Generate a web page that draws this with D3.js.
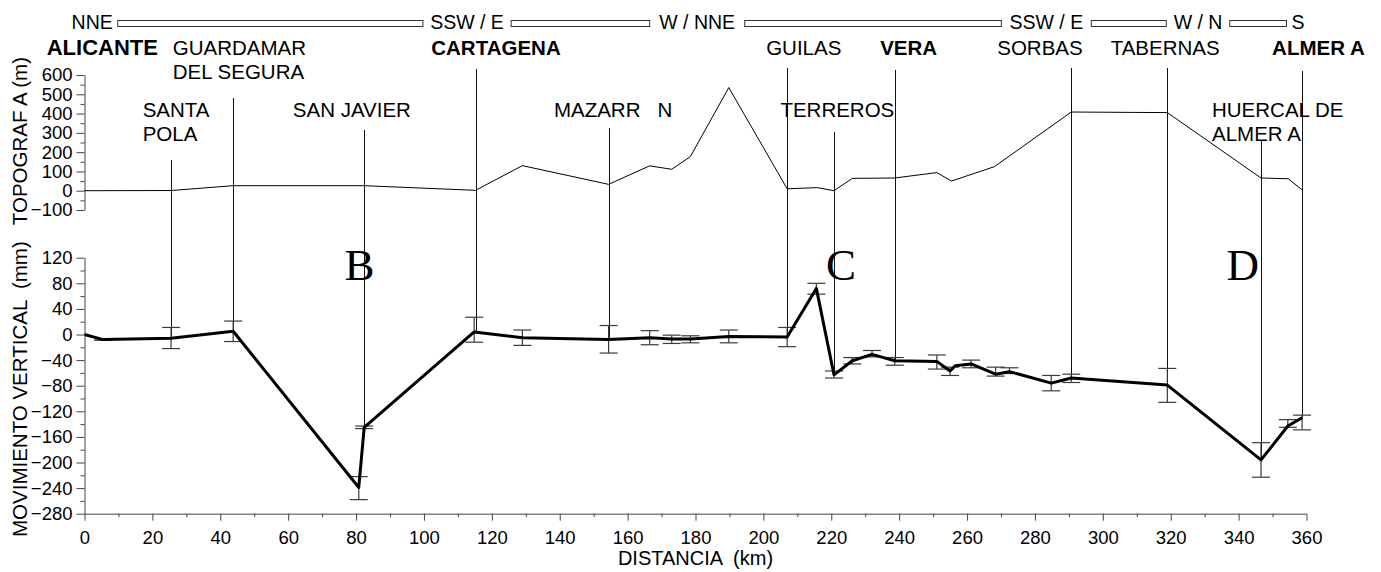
<!DOCTYPE html>
<html>
<head>
<meta charset="utf-8">
<script src="https://cdn.jsdelivr.net/npm/d3@7"></script>
<style>
    body { margin: 0; background: #fff; }
    svg text { font-family: "Liberation Sans", Arial, sans-serif; white-space: pre; }
</style>
</head>
<body>
<svg id="chart" width="1381" height="572"></svg>
<script>
// Topography along the profile (km, m)
var topoKm   = [0, 25.5, 43.8, 82.4, 115.2, 129, 154.4, 166.5, 173, 178.5, 189.8, 207, 215.9, 220.8, 226.2, 238.7, 251.1, 255.4, 268.1, 290.7, 319, 346.6, 354.6, 358.7];
var topoElev = [0, 1, 26, 26, 2, 130, 33, 129, 111, 177, 535, 10, 16, 0, 64, 66, 94, 50, 125, 408, 405, 66, 62, 5];

// Vertical movement (mm) with error bar limits
var movKm = [0, 5.5, 25.5, 43.8, 80.8, 82.4, 114.8, 129, 154.4, 166.5, 173, 178.5, 189.8, 207, 215.6, 220.8, 226.2, 232, 238.7, 251.1, 255, 256.5, 261.2, 268.4, 272.5, 284.8, 290.7, 319, 346.6, 354.5, 358.7];
var movMm = [0, -8, -6, 5, -239, -145, 4, -5, -8, -5, -7, -7, -3, -4, 72, -63, -41, -31, -41, -42, -57, -49, -46, -62, -58, -76, -68, -79, -196, -143, -130];
var movHi = [null, -7, 11, 21, -222, -143, 27, 7, 14, 6, -1, -2, 7, 11, 80, -57, -36, -25, -36, -32, -51, null, -40, -51, -52, -64, -62, -53, -169, -133, -126];
var movLo = [null, -9, -22, -11, -258, -147, -12, -17, -29, -16, -14, -13, -13, -19, 63, -68, -46, -35, -48, -54, -64, null, -52, -65, -61, -88, -75, -106, -223, -145, -149];

// Towns along the profile
var townNames = [["ALICANTE"], ["SANTA", "POLA"], ["GUARDAMAR", "DEL SEGURA"], ["SAN JAVIER"], ["CARTAGENA"], ["MAZARR   N"], ["GUILAS"], ["TERREROS"], ["VERA"], ["SORBAS"], ["TABERNAS"], ["HUERCAL DE", "ALMER A"], ["ALMER A"]];
var townKm    = [0, 25.5, 43.8, 82.4, 115.2, 154.4, 207, 220.8, 238.7, 290.7, 319, 346.6, 358.7];
var townBold  = [true, false, false, false, true, false, false, false, true, false, false, false, true];

// Direction of the profile segments
var dirLabels = ["NNE", "SSW / E", "W / NNE", "SSW / E", "W / N", "S"];
var dirStart  = [9.8, 125.7, 194.5, 296.6, 337.4];
var dirEnd    = [99.7, 166.5, 270.1, 318.7, 354.1];

// Zone letters
var zoneLabels = ["B", "C", "D"];
var zoneKm     = [81, 222.9, 341.2];
var zoneMm     = [85.5, 85.5, 85.5];

var xTicks    = d3.range(0, 361, 20);
var topoTicks = d3.range(-100, 601, 100);
var movTicks  = d3.range(-280, 121, 40);

// label placement (px), kept apart from the data
var townLayout = {
    dx:   [-37.8, -28.4, -60.4, -71.4, -44.3, -54.7, -21, -53.6, -14.6, -74, -56.7, -49, -30],
    size: [22, 20.5, 20.5, 20.5, 20.5, 20.5, 20.5, 20.5, 20.5, 20.5, 20.5, 20.5, 20.5],
    row:  [0, 1, 0, 1, 0, 1, 0, 1, 0, 0, 0, 1, 0],
    top:  [null, 160, 98, 130, 69, 128, 68, 132, 70, 68, 68, 140, 71]
};
var rowBase = [54.5, 116.7];
var lineGap = 24.5;

var svg = d3.select("#chart");

var x = d3.scaleLinear().domain([0, 360]).range([84.5, 1306.5]);
var yTopo = d3.scaleLinear().domain([-100, 600]).range([210, 75]);
var yMov = d3.scaleLinear().domain([-280, 120]).range([513.7, 257.7]);

var axisColor = "#444";

var styleAxis = function(g, fontSize) {
    g.selectAll("path, line").attr("stroke", axisColor).attr("stroke-width", 1);
    g.selectAll("text").attr("fill", "#000").style("font-size", fontSize + "px")
        .style("font-family", "'Liberation Sans', Arial, sans-serif");
};

var minorOf = function(ticks, step) {
    return ticks.slice(0, -1).map(function(t) { return t + step; });
};

// Upper y axis (topography)
var gTopo = svg.append("g").attr("transform", "translate(" + x(0) + ",0)");
gTopo.call(d3.axisLeft(yTopo).tickValues(topoTicks).tickSize(8).tickPadding(4).tickSizeOuter(0));
gTopo.append("g").call(d3.axisLeft(yTopo).tickValues(minorOf(topoTicks, 50)).tickSize(4).tickFormat("").tickSizeOuter(0))
    .select(".domain").remove();
styleAxis(gTopo, 18.5);

// Lower y axis (movement)
var gMov = svg.append("g").attr("transform", "translate(" + x(0) + ",0)");
gMov.call(d3.axisLeft(yMov).tickValues(movTicks).tickSize(8).tickPadding(4).tickSizeOuter(0));
gMov.append("g").call(d3.axisLeft(yMov).tickValues(minorOf(movTicks, 20)).tickSize(4).tickFormat("").tickSizeOuter(0))
    .select(".domain").remove();
styleAxis(gMov, 18.5);

// x axis
var gX = svg.append("g").attr("transform", "translate(0," + yMov(-280) + ")");
gX.call(d3.axisBottom(x).tickValues(xTicks).tickSize(7).tickPadding(10).tickSizeOuter(0));
gX.append("g").call(d3.axisBottom(x).tickValues(minorOf(xTicks, 10)).tickSize(3.5).tickFormat("").tickSizeOuter(0))
    .select(".domain").remove();
styleAxis(gX, 18.5);

// Axis titles
svg.append("text")
    .attr("x", (x(0) + x(360)) / 2)
    .attr("y", 565)
    .attr("text-anchor", "middle")
    .style("font-size", "20px")
    .text("DISTANCIA  (km)");

svg.append("text")
    .attr("transform", "translate(26.5,537) rotate(-90)")
    .attr("text-anchor", "start")
    .style("font-size", "20.5px")
    .text("MOVIMIENTO VERTICAL  (mm)");

svg.append("text")
    .attr("transform", "translate(26.5,57) rotate(-90)")
    .attr("text-anchor", "end")
    .style("font-size", "20.5px")
    .text("TOPOGRAF A (m)");

// Direction bars
var barTop = 20.5, barH = 6;
svg.selectAll("rect.dir")
    .data(dirStart).enter()
    .append("rect")
    .attr("class", "dir")
    .attr("x", function(d) { return x(d); })
    .attr("y", barTop)
    .attr("width", function(d, i) { return x(dirEnd[i]) - x(d); })
    .attr("height", barH)
    .attr("fill", "#fff")
    .attr("stroke", "#333")
    .attr("stroke-width", 1);

svg.selectAll("text.dir")
    .data(dirLabels).enter()
    .append("text")
    .attr("class", "dir")
    .attr("y", 29.3)
    .style("font-size", "19.5px")
    .attr("text-anchor", function(d, i) {
        if (i == 0) return "end";
        if (i == dirLabels.length - 1) return "start";
        return "middle";
    })
    .attr("x", function(d, i) {
        if (i == 0) return x(dirStart[0]) - 5;
        if (i == dirLabels.length - 1) return x(dirEnd[dirEnd.length - 1]) + 5;
        return (x(dirEnd[i - 1]) + x(dirStart[i])) / 2;
    })
    .text(function(d) { return d; });

// Town marker lines, down to the movement value at that town
var nearestMov = function(km) {
    var best = 0;
    movKm.forEach(function(k, i) {
        if (Math.abs(k - km) < Math.abs(movKm[best] - km)) best = i;
    });
    return movMm[best];
};

townKm.forEach(function(km, i) {
    if (townLayout.top[i] === null) return;
    var px = Math.round(x(km)) + 0.5;
    svg.append("line")
        .attr("x1", px).attr("x2", px)
        .attr("y1", townLayout.top[i])
        .attr("y2", yMov(nearestMov(km)))
        .attr("stroke", "#111")
        .attr("stroke-width", 1);
});

// Town labels
townNames.forEach(function(lines, i) {
    var t = svg.append("text")
        .attr("x", x(townKm[i]) + townLayout.dx[i])
        .attr("y", rowBase[townLayout.row[i]])
        .style("font-size", townLayout.size[i] + "px")
        .style("font-weight", townBold[i] ? "bold" : "normal");
    lines.forEach(function(l, j) {
        t.append("tspan")
            .attr("x", x(townKm[i]) + townLayout.dx[i])
            .attr("dy", j == 0 ? 0 : lineGap)
            .text(l);
    });
});

// Topography line
var topoLine = d3.line()
    .x(function(d) { return x(d[0]); })
    .y(function(d) { return yTopo(d[1]); });
svg.append("path")
    .datum(d3.zip(topoKm, topoElev))
    .attr("d", topoLine)
    .attr("fill", "none")
    .attr("stroke", "#000")
    .attr("stroke-width", 1);

// Error bars
var capW = 9;
var errData = movKm.map(function(k, i) {
    return {km: k, hi: movHi[i], lo: movLo[i]};
}).filter(function(d) { return d.hi !== null; });

var gErr = svg.append("g").attr("stroke", "#3a3a3a").attr("stroke-width", 1.2);
errData.forEach(function(d) {
    var px = x(d.km);
    gErr.append("line").attr("x1", px).attr("x2", px).attr("y1", yMov(d.hi)).attr("y2", yMov(d.lo));
    gErr.append("line").attr("x1", px - capW).attr("x2", px + capW).attr("y1", yMov(d.hi)).attr("y2", yMov(d.hi));
    gErr.append("line").attr("x1", px - capW).attr("x2", px + capW).attr("y1", yMov(d.lo)).attr("y2", yMov(d.lo));
});

// Movement line
var movLine = d3.line()
    .x(function(d) { return x(d[0]); })
    .y(function(d) { return yMov(d[1]); });
svg.append("path")
    .datum(d3.zip(movKm, movMm))
    .attr("d", movLine)
    .attr("fill", "none")
    .attr("stroke", "#000")
    .attr("stroke-width", 3)
    .attr("stroke-linejoin", "round");

// Zone letters
svg.selectAll("text.zone")
    .data(zoneLabels).enter()
    .append("text")
    .attr("class", "zone")
    .attr("x", function(d, i) { return x(zoneKm[i]); })
    .attr("y", function(d, i) { return yMov(zoneMm[i]); })
    .attr("text-anchor", "middle")
    .style("font-family", "'Liberation Serif', 'Times New Roman', serif")
    .style("font-size", "45px")
    .text(function(d) { return d; });
</script>
</body>
</html>
